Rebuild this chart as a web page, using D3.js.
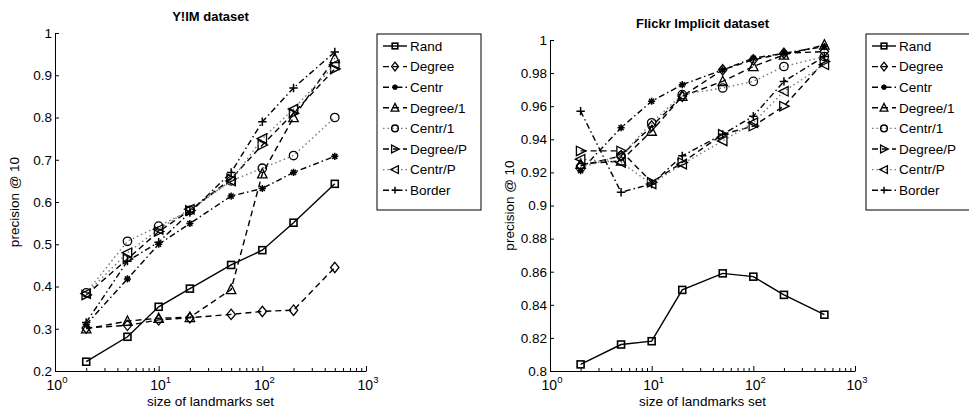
<!DOCTYPE html>
<html>
<head>
<meta charset="utf-8">
<script src="https://cdn.jsdelivr.net/npm/d3@7"></script>
<style>
  body { margin: 0; background: #fff; }
  svg { font-family: "Liberation Sans", Arial, sans-serif; }
</style>
</head>
<body>
<svg id="chart" width="969" height="416"></svg>
<script>
// landmark set sizes (x)
const landmarks = [2, 5, 10, 20, 50, 100, 200, 500];
const seriesNames = ['Rand', 'Degree', 'Centr', 'Degree/1', 'Centr/1', 'Degree/P', 'Centr/P', 'Border'];

// Y!IM dataset
const yimRand     = [0.222, 0.281, 0.352, 0.395, 0.451, 0.486, 0.551, 0.643];
const yimDegree   = [0.302, 0.308, 0.321, 0.326, 0.334, 0.341, 0.344, 0.445];
const yimCentr    = [0.310, 0.418, 0.500, 0.549, 0.614, 0.632, 0.670, 0.708];
const yimDegree1  = [0.300, 0.318, 0.325, 0.327, 0.393, 0.667, 0.800, 0.940];
const yimCentr1   = [0.385, 0.507, 0.543, 0.580, 0.650, 0.680, 0.710, 0.800];
const yimDegreeP  = [0.380, 0.465, 0.530, 0.580, 0.655, 0.735, 0.810, 0.915];
const yimCentrP   = [0.383, 0.480, 0.535, 0.583, 0.650, 0.750, 0.820, 0.925];
const yimBorder   = [0.315, 0.460, 0.505, 0.575, 0.670, 0.790, 0.870, 0.955];

// Flickr Implicit dataset
const flickrRand    = [0.804, 0.816, 0.818, 0.849, 0.859, 0.857, 0.846, 0.834];
const flickrDegree  = [0.924, 0.930, 0.948, 0.966, 0.982, 0.988, 0.992, 0.993];
const flickrCentr   = [0.921, 0.947, 0.963, 0.973, 0.982, 0.989, 0.992, 0.996];
const flickrDegree1 = [0.925, 0.927, 0.945, 0.966, 0.975, 0.984, 0.991, 0.997];
const flickrCentr1  = [0.923, 0.930, 0.950, 0.967, 0.971, 0.975, 0.984, 0.990];
const flickrDegreeP = [0.933, 0.933, 0.914, 0.926, 0.943, 0.948, 0.960, 0.987];
const flickrCentrP  = [0.928, 0.926, 0.913, 0.925, 0.939, 0.950, 0.969, 0.985];
const flickrBorder  = [0.957, 0.908, 0.913, 0.930, 0.943, 0.954, 0.975, 0.990];

const yimTicks = [0.2, 0.3, 0.4, 0.5, 0.6, 0.7, 0.8, 0.9, 1];
const flickrTicks = [0.8, 0.82, 0.84, 0.86, 0.88, 0.9, 0.92, 0.94, 0.96, 0.98, 1];
const xMajor = [1, 10, 100, 1000];

// line styles and markers per series
const styles = [
  { dash: null,        marker: 'square' },
  { dash: '6,4',       marker: 'diamond' },
  { dash: '6,3,1.5,3', marker: 'asterisk' },
  { dash: '6,4',       marker: 'triUp' },
  { dash: '1.5,3',     marker: 'circle', color: '#777' },
  { dash: '6,4',       marker: 'triRight' },
  { dash: '1.5,3',     marker: 'triLeft', color: '#777' },
  { dash: '6,3,1.5,3', marker: 'plus' }
];

const svg = d3.select('#chart');

function drawMarker(g, type, cx, cy, s = 4.2) {
  const m = g.append('g').attr('transform', `translate(${cx},${cy})`)
    .attr('fill', 'none').attr('stroke', '#000').attr('stroke-width', 1.3);
  const q = s * 0.83;
  if (type === 'square') {
    m.append('rect').attr('x', -q).attr('y', -q).attr('width', 2 * q).attr('height', 2 * q).attr('stroke-width', 1.6);
  } else if (type === 'diamond') {
    m.append('path').attr('d', `M0,${-s-1}L${s},0L0,${s+1}L${-s},0Z`);
  } else if (type === 'circle') {
    m.append('circle').attr('r', s);
  } else if (type === 'triUp') {
    m.append('path').attr('d', `M0,${-s-1}L${s+0.5},${s}L${-s-0.5},${s}Z`);
  } else if (type === 'triRight') {
    m.append('path').attr('d', `M${s+1},0L${-s},${-s-0.5}L${-s},${s+0.5}Z`);
  } else if (type === 'triLeft') {
    m.append('path').attr('d', `M${-s-1},0L${s},${-s-0.5}L${s},${s+0.5}Z`);
  } else if (type === 'plus') {
    m.append('path').attr('d', `M${-s},0H${s}M0,${-s}V${s}`).attr('stroke-width', 1.5);
  } else if (type === 'asterisk') {
    const a = s * 0.85, b = s * 0.6;
    m.append('path').attr('d', `M${-a},0H${a}M0,${-a}V${a}M${-b},${-b}L${b},${b}M${-b},${b}L${b},${-b}`).attr('stroke-width', 1.5);
  }
}

function drawPanel(opt) {
  const { left, right, top, bottom, yDomain, yTicks, yFmt, data, title, titleY, legendX, legendY } = opt;
  const x = d3.scaleLog().domain([1, 1000]).range([left, right]);
  const y = d3.scaleLinear().domain(yDomain).range([bottom, top]);
  const g = svg.append('g');

  // y axis (ticks inward)
  const yAxis = g.append('g').attr('transform', `translate(${left},0)`)
    .call(d3.axisLeft(y).tickValues(yTicks).tickFormat(yFmt).tickSize(-4).tickSizeOuter(0).tickPadding(3));
  yAxis.selectAll('text').attr('font-size', 13.5).attr('fill', '#000');
  yAxis.select('.domain').attr('stroke', '#000');

  // x axis major + minor ticks
  const minor = [];
  for (let d = 1; d < 1000; d *= 10) for (let k = 2; k <= 9; k++) minor.push(d * k);
  const xAxis = g.append('g').attr('transform', `translate(0,${bottom})`)
    .call(d3.axisBottom(x).tickValues(xMajor).tickFormat('').tickSize(-5).tickSizeOuter(0));
  xAxis.select('.domain').attr('stroke', '#000');
  g.append('g').attr('transform', `translate(0,${bottom})`)
    .call(d3.axisBottom(x).tickValues(minor).tickFormat('').tickSize(-3).tickSizeOuter(0))
    .select('.domain').remove();
  g.selectAll('.tick line').attr('stroke', '#000');

  xMajor.forEach((v, i) => {
    const t = g.append('text').attr('x', x(v) + 2).attr('y', bottom + 19)
      .attr('text-anchor', 'middle').attr('font-size', 14);
    t.append('tspan').text('10');
    t.append('tspan').attr('font-size', 9.5).attr('dy', -7).text(String(i));
  });

  g.append('text').attr('x', (left + right) / 2).attr('y', bottom + 35)
    .attr('text-anchor', 'middle').attr('font-size', 13.5).text('size of landmarks set');
  g.append('text').attr('transform', `translate(${left - 36},${(top + bottom) / 2}) rotate(-90)`)
    .attr('text-anchor', 'middle').attr('font-size', 13.5).text('precision @ 10');
  g.append('text').attr('x', (left + right) / 2).attr('y', titleY)
    .attr('text-anchor', 'middle').attr('font-size', 13).attr('font-weight', 'bold').text(title);

  const line = d3.line().x((d, i) => x(landmarks[i])).y(d => y(d));
  data.forEach((vals, si) => {
    const st = styles[si];
    g.append('path').datum(vals).attr('d', line)
      .attr('fill', 'none').attr('stroke', st.color || '#000').attr('stroke-width', 1.4)
      .attr('stroke-dasharray', st.dash);
    vals.forEach((v, i) => drawMarker(g, st.marker, x(landmarks[i]), y(v)));
  });

  // legend
  const lg = g.append('g').attr('transform', `translate(${legendX},${legendY})`);
  lg.append('rect').attr('width', 104).attr('height', 176)
    .attr('fill', '#fff').attr('stroke', '#000').attr('stroke-width', 1);
  seriesNames.forEach((name, i) => {
    const yy = 12 + i * 20.6;
    const st = styles[i];
    lg.append('line').attr('x1', 6).attr('x2', 30).attr('y1', yy).attr('y2', yy)
      .attr('stroke', st.color || '#000').attr('stroke-width', 1.4).attr('stroke-dasharray', st.dash);
    drawMarker(lg, st.marker, 18, yy, 3.4);
    lg.append('text').attr('x', 33).attr('y', yy + 4.8).attr('font-size', 13.5).text(name);
  });
}

drawPanel({
  left: 55, right: 366, top: 33, bottom: 371,
  yDomain: [0.2, 1], yTicks: yimTicks, yFmt: d3.format('~g'),
  data: [yimRand, yimDegree, yimCentr, yimDegree1, yimCentr1, yimDegreeP, yimCentrP, yimBorder],
  title: 'Y!IM dataset', titleY: 21, legendX: 377, legendY: 34
});

drawPanel({
  left: 550, right: 855, top: 40, bottom: 371,
  yDomain: [0.8, 1], yTicks: flickrTicks, yFmt: d3.format('~g'),
  data: [flickrRand, flickrDegree, flickrCentr, flickrDegree1, flickrCentr1, flickrDegreeP, flickrCentrP, flickrBorder],
  title: 'Flickr Implicit dataset', titleY: 28, legendX: 866, legendY: 34
});
</script>
</body>
</html>
